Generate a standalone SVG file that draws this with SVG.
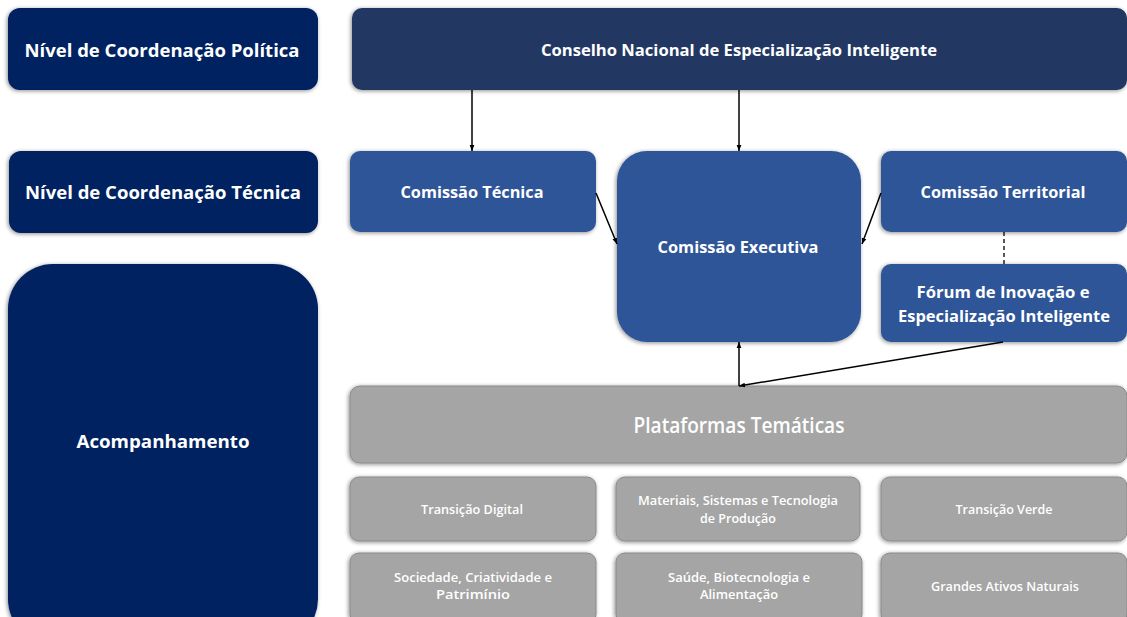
<svg xmlns="http://www.w3.org/2000/svg" width="1127" height="617" viewBox="0 0 1127 617">
<style>
.navy{fill:#002060;}
.top{fill:#203864;}
.blue{fill:#2f5597;}
.gray{fill:#a5a5a5;stroke:#8a8a8a;stroke-width:1;}
text{font-family:"Open Sans","Noto Sans","Liberation Sans",sans-serif;font-weight:bold;fill:#ffffff;text-anchor:middle;dominant-baseline:central;}
.t18{font-size:18px;}
.t16{font-size:16px;}
.t20{font-size:21px;font-weight:600;}
.t12{font-size:13px;font-weight:600;}
.conn{stroke:#000;stroke-width:1.5;fill:none;}
</style>
<defs>
<filter id="sh" x="-10%" y="-10%" width="120%" height="130%">
<feGaussianBlur in="SourceAlpha" stdDeviation="2"/>
<feOffset dx="-1" dy="1" result="b"/>
<feComponentTransfer><feFuncA type="linear" slope="0.45"/></feComponentTransfer>
<feMerge><feMergeNode/><feMergeNode in="SourceGraphic"/></feMerge>
</filter>
<marker id="ah" viewBox="0 0 10 10" refX="10" refY="5" markerWidth="6" markerHeight="6" orient="auto-start-reverse" markerUnits="userSpaceOnUse">
<path d="M0,1 L10,5 L0,9 z" fill="#000"/>
</marker>
</defs>
<rect width="1127" height="617" fill="#ffffff"/>

<g id="nivel-politica"><rect class="navy" x="8" y="8" width="310" height="82" rx="12" filter="url(#sh)"/><text class="t18" x="162" y="50" textLength="275" lengthAdjust="spacingAndGlyphs">Nível de Coordenação Política</text></g>
<g id="nivel-tecnica"><rect class="navy" x="9" y="151" width="309" height="82" rx="12" filter="url(#sh)"/><text class="t18" x="163" y="192" textLength="276" lengthAdjust="spacingAndGlyphs">Nível de Coordenação Técnica</text></g>
<g id="acompanhamento"><rect class="navy" x="8" y="264" width="310" height="380" rx="45" filter="url(#sh)"/><text class="t18" x="163" y="441" textLength="173" lengthAdjust="spacingAndGlyphs">Acompanhamento</text></g>

<g id="conselho"><rect class="top" x="352" y="8" width="775" height="82" rx="10" filter="url(#sh)"/><text class="t16" x="739" y="50" textLength="396" lengthAdjust="spacingAndGlyphs">Conselho Nacional de Especialização Inteligente</text></g>
<g id="comissao-tecnica"><rect class="blue" x="350" y="151" width="246" height="81" rx="10" filter="url(#sh)"/><text class="t16" x="472" y="192" textLength="143" lengthAdjust="spacingAndGlyphs">Comissão Técnica</text></g>
<g id="comissao-executiva"><rect class="blue" x="617" y="151" width="244" height="191" rx="30" filter="url(#sh)"/><text class="t16" x="738" y="247" textLength="161" lengthAdjust="spacingAndGlyphs">Comissão Executiva</text></g>
<g id="comissao-territorial"><rect class="blue" x="881" y="151" width="246" height="81" rx="10" filter="url(#sh)"/><text class="t16" x="1003" y="192" textLength="165" lengthAdjust="spacingAndGlyphs">Comissão Territorial</text></g>
<g id="forum"><rect class="blue" x="881" y="264" width="246" height="78" rx="10" filter="url(#sh)"/><text class="t16" x="1003" y="292" textLength="173" lengthAdjust="spacingAndGlyphs">Fórum de Inovação e</text><text class="t16" x="1004" y="316" textLength="212" lengthAdjust="spacingAndGlyphs">Especialização Inteligente</text></g>

<g id="plataformas"><rect class="gray" x="350" y="386" width="777" height="77" rx="10" filter="url(#sh)"/><text class="t20" x="739" y="425" textLength="211" lengthAdjust="spacingAndGlyphs">Plataformas Temáticas</text></g>
<g id="transicao-digital"><rect class="gray" x="350" y="477" width="246" height="64" rx="9" filter="url(#sh)"/><text class="t12" x="472" y="509" textLength="102" lengthAdjust="spacingAndGlyphs">Transição Digital</text></g>
<g id="materiais"><rect class="gray" x="616" y="477" width="244" height="64" rx="9" filter="url(#sh)"/><text class="t12" x="738" y="500" textLength="200" lengthAdjust="spacingAndGlyphs">Materiais, Sistemas e Tecnologia</text><text class="t12" x="738" y="518" textLength="76" lengthAdjust="spacingAndGlyphs">de Produção</text></g>
<g id="transicao-verde"><rect class="gray" x="881" y="477" width="246" height="64" rx="9" filter="url(#sh)"/><text class="t12" x="1004" y="509" textLength="97" lengthAdjust="spacingAndGlyphs">Transição Verde</text></g>
<g id="sociedade"><rect class="gray" x="350" y="553" width="246" height="70" rx="9" filter="url(#sh)"/><text class="t12" x="473" y="577" textLength="158" lengthAdjust="spacingAndGlyphs">Sociedade, Criatividade e</text><text class="t12" x="473" y="594" textLength="74" lengthAdjust="spacingAndGlyphs">Patrimínio</text></g>
<g id="saude"><rect class="gray" x="616" y="553" width="246" height="70" rx="9" filter="url(#sh)"/><text class="t12" x="739" y="577" textLength="142" lengthAdjust="spacingAndGlyphs">Saúde, Biotecnologia e</text><text class="t12" x="739" y="594" textLength="78" lengthAdjust="spacingAndGlyphs">Alimentação</text></g>
<g id="grandes-ativos"><rect class="gray" x="881" y="553" width="246" height="70" rx="9" filter="url(#sh)"/><text class="t12" x="1005" y="586" textLength="148" lengthAdjust="spacingAndGlyphs">Grandes Ativos Naturais</text></g>

<g id="connectors">
<line class="conn" x1="472" y1="90" x2="472" y2="151" marker-end="url(#ah)"/>
<line class="conn" x1="739" y1="90" x2="739" y2="151" marker-end="url(#ah)"/>
<line class="conn" x1="596" y1="193" x2="617" y2="244" marker-end="url(#ah)"/>
<line class="conn" x1="881" y1="193" x2="862" y2="244" marker-end="url(#ah)"/>
<line class="conn" x1="739" y1="386" x2="739" y2="342" marker-end="url(#ah)"/>
<line class="conn" x1="1003" y1="342" x2="739" y2="386" marker-end="url(#ah)"/>
<line x1="1004" y1="232" x2="1004" y2="264" stroke="#000" stroke-width="1.3" stroke-dasharray="4,3"/>
</g>
</svg>
